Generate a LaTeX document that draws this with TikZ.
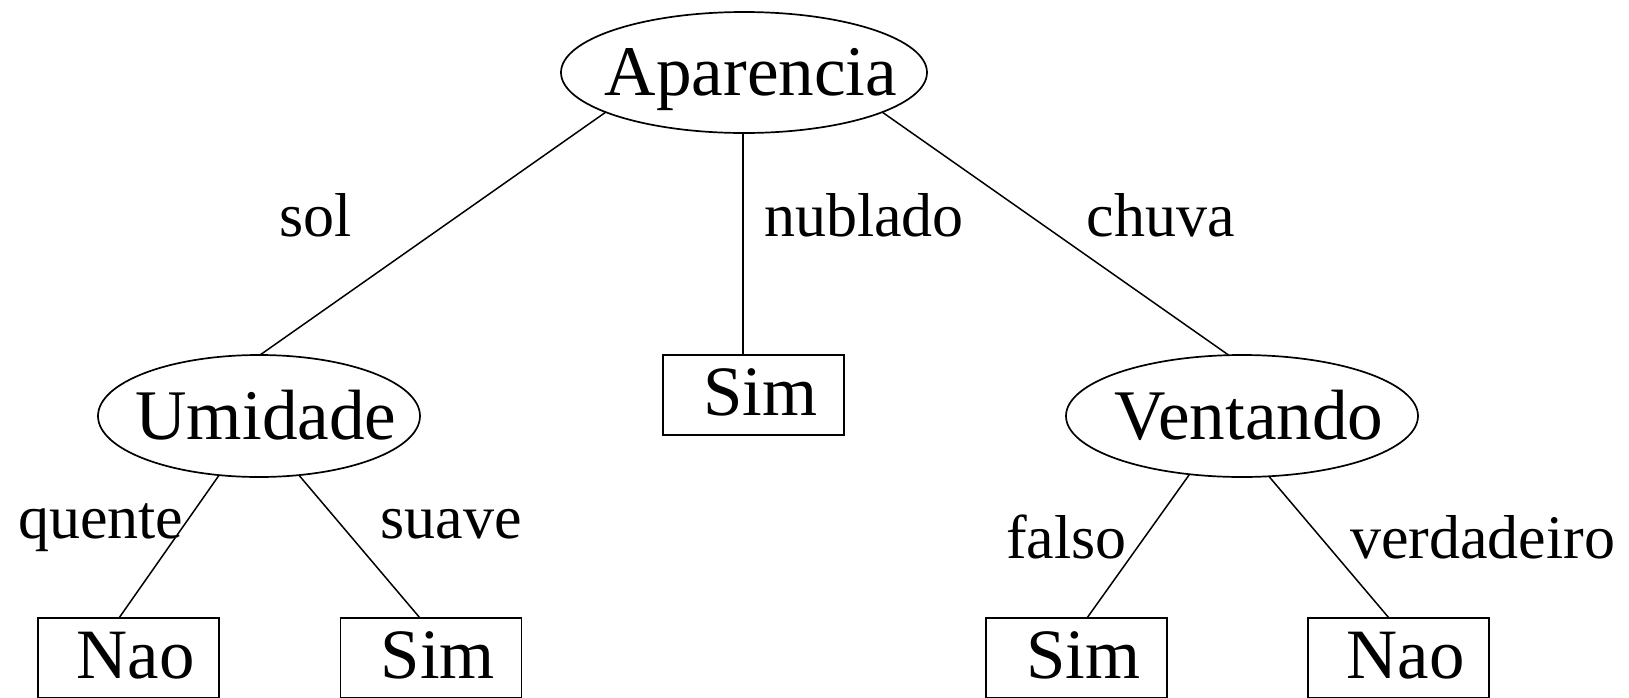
\documentclass[tikz,border=0pt]{standalone}
\usepackage{fontspec}
\setmainfont{Liberation Serif}
\usetikzlibrary{shapes.geometric,calc}
\newcommand{\elltext}[1]{\makebox[0pt]{\hspace*{7pt}#1}}
\begin{document}
\begin{tikzpicture}[x=0.5pt,y=-0.5pt,
  every node/.style={inner sep=0pt, outer sep=0pt},
  ell/.style={draw, line width=0.85pt, ellipse, font=\fontsize{35.6pt}{40pt}\selectfont,
    text height=30.1pt, text depth=7.1pt},
  leaf/.style={draw, line width=0.85pt, rectangle, minimum width=90.5pt, minimum height=40pt,
    font=\fontsize{35.4pt}{40pt}\selectfont, text height=29pt, text depth=8.5pt,
    execute at begin node={\hspace*{7pt}}},
  lbl/.style={anchor=base, font=\fontsize{31pt}{36pt}\selectfont},
  edge/.style={line width=0.75pt}]
\useasboundingbox (0,0) rectangle (1629,697);
\node[ell, minimum width=183pt, minimum height=60.5pt] (A) at (744,72.5) {\elltext{Aparencia}};
\node[ell, minimum width=161pt, minimum height=61pt] (U) at (259,416) {\elltext{Umidade}};
\node[ell, minimum width=176pt, minimum height=61pt] (V) at (1242,416) {\elltext{Ventando}};
\node[leaf] (S0) at (753.5,395) {Sim};
\node[leaf] (N1) at (128.5,658) {Nao};
\node[leaf] (S1) at (431,658) {Sim};
\node[leaf] (S2) at (1076.5,658) {Sim};
\node[leaf] (N2) at (1398.5,658) {Nao};
\draw[edge] (A.196) -- ($(U.north)+(1,0)$);
\draw[edge] ($(A.south)+(-1,0)$) -- ($(S0.north)+(-10.5,0)$);
\draw[edge] (A.-16.4) -- ($(V.north)+(-13.5,0)$);
\draw[edge] (U.236.7) -- ($(N1.north)+(-9.5,0)$);
\draw[edge] (U.-56.7) -- ($(S1.north)+(-11,0)$);
\draw[edge] (V.228.2) -- ($(S2.north)+(10.5,0)$);
\draw[edge] (V.-66.5) -- ($(N2.north)+(-9.5,0)$);
\node[lbl] (l1) at (316,236) {sol};
\node[lbl] (l2) at (864,236) {nublado};
\node[lbl] (l3) at (1161,236) {chuva};
\node[lbl] (l4) at (100.8,538) {quente};
\node[lbl] (l5) at (451.4,538) {suave};
\node[lbl] (l6) at (1066.5,558) {falso};
\node[lbl] (l7) at (1482.6,558) {verdadeiro};
\end{tikzpicture}
\end{document}
